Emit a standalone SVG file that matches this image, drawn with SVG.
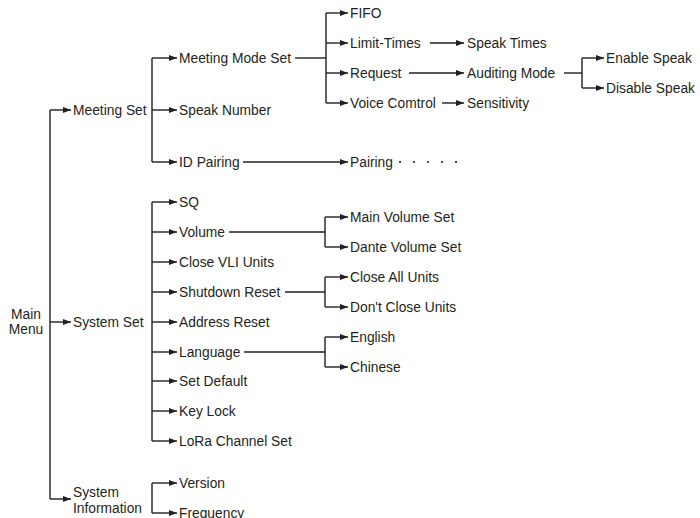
<svg xmlns="http://www.w3.org/2000/svg" width="700" height="518" viewBox="0 0 700 518">
<defs>
<marker id="ah" markerUnits="userSpaceOnUse" markerWidth="8" markerHeight="6" refX="8" refY="3" orient="auto">
<path d="M0,0 L8,3 L0,6 z" fill="#231f20"/>
</marker>
<style>
text{font-family:"Liberation Sans",Arial,sans-serif;font-size:13.8px;fill:#231f20}
.l{stroke:#231f20;stroke-width:1.4;fill:none}
.a{stroke:#231f20;stroke-width:1.4;fill:none;marker-end:url(#ah)}
.dot{fill:#231f20}
</style>
</defs>
<rect width="700" height="518" fill="#fff"/>
<g id="connectors">
<!-- main trunk -->
<path class="l" d="M50,110 V499"/>
<path class="a" d="M50,110 H71"/>
<path class="a" d="M50,322 H71"/>
<path class="a" d="M50,499 H71"/>
<!-- meeting set -->
<path class="l" d="M152,58 V162"/>
<path class="a" d="M152,58 H177"/>
<path class="a" d="M152,110 H177"/>
<path class="a" d="M152,162 H177"/>
<!-- meeting mode set -->
<path class="l" d="M295,58 H326"/>
<path class="l" d="M326,13 V103"/>
<path class="a" d="M326,13 H348"/>
<path class="a" d="M326,43 H348"/>
<path class="a" d="M326,73 H348"/>
<path class="a" d="M326,103 H348"/>
<path class="a" d="M430,43 H464"/>
<path class="a" d="M409,73 H464"/>
<path class="a" d="M442,103 H464"/>
<!-- auditing -->
<path class="l" d="M564,73 H582"/>
<path class="l" d="M582,58 V88"/>
<path class="a" d="M582,58 H604"/>
<path class="a" d="M582,88 H604"/>
<!-- ID pairing -->
<path class="a" d="M243,162 H348"/>
<!-- system set -->
<path class="l" d="M152,202 V441"/>
<path class="a" d="M152,202 H177"/>
<path class="a" d="M152,232 H177"/>
<path class="a" d="M152,262 H177"/>
<path class="a" d="M152,292 H177"/>
<path class="a" d="M152,322 H177"/>
<path class="a" d="M152,352 H177"/>
<path class="a" d="M152,381 H177"/>
<path class="a" d="M152,411 H177"/>
<path class="a" d="M152,441 H177"/>
<!-- volume -->
<path class="l" d="M229,232 H325"/>
<path class="l" d="M325,217 V247"/>
<path class="a" d="M325,217 H348"/>
<path class="a" d="M325,247 H348"/>
<!-- shutdown -->
<path class="l" d="M285,292 H325"/>
<path class="l" d="M325,277 V307"/>
<path class="a" d="M325,277 H348"/>
<path class="a" d="M325,307 H348"/>
<!-- language -->
<path class="l" d="M244,352 H325"/>
<path class="l" d="M325,337 V367"/>
<path class="a" d="M325,337 H348"/>
<path class="a" d="M325,367 H348"/>
<!-- system information -->
<path class="l" d="M152,483 V513"/>
<path class="a" d="M152,483 H177"/>
<path class="a" d="M152,513 H177"/>
</g>
<g id="main-menu"><text x="26" y="319" text-anchor="middle">Main</text><text x="26" y="334" text-anchor="middle">Menu</text></g>
<g id="meeting-set"><text x="73" y="115">Meeting Set</text></g>
<g id="meeting-mode-set"><text x="179" y="63">Meeting Mode Set</text></g>
<g id="speak-number"><text x="179" y="115">Speak Number</text></g>
<g id="id-pairing"><text x="179" y="167">ID Pairing</text></g>
<g id="fifo"><text x="350" y="18">FIFO</text></g>
<g id="limit-times"><text x="350" y="48">Limit-Times</text></g>
<g id="request"><text x="350" y="78">Request</text></g>
<g id="voice-control"><text x="350" y="108">Voice Comtrol</text></g>
<g id="speak-times"><text x="467" y="48">Speak Times</text></g>
<g id="auditing-mode"><text x="467" y="78">Auditing Mode</text></g>
<g id="sensitivity"><text x="467" y="108">Sensitivity</text></g>
<g id="enable-speak"><text x="606" y="63">Enable Speak</text></g>
<g id="disable-speak"><text x="606" y="93">Disable Speak</text></g>
<g id="pairing"><text x="350" y="167">Pairing</text>
<circle class="dot" cx="400" cy="162" r="1.1"/><circle class="dot" cx="414" cy="162" r="1.1"/><circle class="dot" cx="428" cy="162" r="1.1"/><circle class="dot" cx="442" cy="162" r="1.1"/><circle class="dot" cx="456" cy="162" r="1.1"/></g>
<g id="system-set"><text x="73" y="327">System Set</text></g>
<g id="sq"><text x="179" y="207">SQ</text></g>
<g id="volume"><text x="179" y="237">Volume</text></g>
<g id="close-vli"><text x="179" y="267">Close VLI Units</text></g>
<g id="shutdown-reset"><text x="179" y="297">Shutdown Reset</text></g>
<g id="address-reset"><text x="179" y="327">Address Reset</text></g>
<g id="language"><text x="179" y="357">Language</text></g>
<g id="set-default"><text x="179" y="386">Set Default</text></g>
<g id="key-lock"><text x="179" y="416">Key Lock</text></g>
<g id="lora"><text x="179" y="446">LoRa Channel Set</text></g>
<g id="main-volume"><text x="350" y="222">Main Volume Set</text></g>
<g id="dante-volume"><text x="350" y="252">Dante Volume Set</text></g>
<g id="close-all"><text x="350" y="282">Close All Units</text></g>
<g id="dont-close"><text x="350" y="312">Don't Close Units</text></g>
<g id="english"><text x="350" y="342">English</text></g>
<g id="chinese"><text x="350" y="372">Chinese</text></g>
<g id="system-information"><text x="73" y="497">System</text><text x="73" y="513">Information</text></g>
<g id="version"><text x="179" y="488">Version</text></g>
<g id="frequency"><text x="179" y="518">Frequency</text></g>
</svg>
